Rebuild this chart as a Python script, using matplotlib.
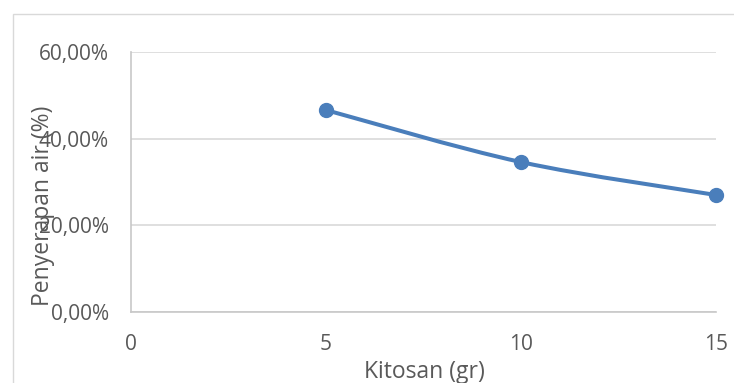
import numpy as np
import matplotlib.pyplot as plt
from matplotlib.path import Path
from matplotlib.patches import PathPatch, Rectangle
from matplotlib.ticker import FuncFormatter

# data
kitosan = [5, 10, 15]
penyerapan = [46.6, 34.6, 27.0]   # %
x_ticks = [0, 5, 10, 15]
y_ticks = [0, 20, 40, 60]

line_col = '#4a7ebb'
grid_col = '#d9d9d9'
text_col = '#595959'

plt.rcParams['font.family'] = ['Open Sans', 'DejaVu Sans']

fig = plt.figure(figsize=(7.34, 3.83), dpi=100)
# outer chart border (Excel style)
fig.patches.append(Rectangle((13 / 734, -0.1), 1.0, 1 - 14 / 383 + 0.1,
                             transform=fig.transFigure, fill=False,
                             edgecolor=grid_col, linewidth=1.0))

ax = fig.add_axes([131 / 734, 71 / 383, 585 / 734, 260 / 383])
ax.set_xlim(0, 15)
ax.set_ylim(0, 60)

# smoothed line (catmull-rom as bezier, like excel "smoothed line")
pts = np.column_stack([kitosan, penyerapan]).astype(float)
ext = np.vstack([pts[0], pts, pts[-1]])
verts = [tuple(pts[0])]
codes = [Path.MOVETO]
for i in range(1, len(ext) - 2):
    p0, p1, p2, p3 = ext[i - 1], ext[i], ext[i + 1], ext[i + 2]
    c1 = p1 + (p2 - p0) / 6
    c2 = p2 - (p3 - p1) / 6
    verts += [tuple(c1), tuple(c2), tuple(p2)]
    codes += [Path.CURVE4] * 3
ax.add_patch(PathPatch(Path(verts, codes), fill=False, edgecolor=line_col,
                       linewidth=2.9, capstyle='round', zorder=3))
ax.plot(kitosan, penyerapan, 'o', color=line_col, markersize=10, zorder=4,
        clip_on=False)

ax.set_xticks(x_ticks)
ax.set_yticks(y_ticks)
ax.yaxis.set_major_formatter(FuncFormatter(lambda v, p: f'{v:.2f}'.replace('.', ',') + '%'))
ax.tick_params(length=0, labelsize=15, colors=text_col)
ax.tick_params(axis='x', pad=16)
ax.tick_params(axis='y', pad=16)
ax.grid(axis='y', color=grid_col, linewidth=1.2)
ax.set_axisbelow(True)
for s in ['top', 'right']:
    ax.spines[s].set_visible(False)
for s in ['left', 'bottom']:
    ax.spines[s].set_color('#c8c8c8')
    ax.spines[s].set_linewidth(1.2)

fig.text(424 / 734, 1 - 372 / 383, 'Kitosan (gr)', ha='center', va='center',
         fontsize=16.5, color=text_col)
fig.text(43 / 734, 1 - 206 / 383, 'Penyerapan air (%)', ha='center', va='center',
         rotation=90, fontsize=16.5, color=text_col)

fig.savefig('out.png', dpi=100)
